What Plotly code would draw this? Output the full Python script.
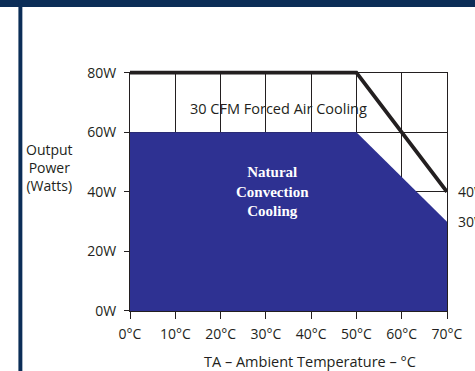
import plotly.graph_objects as go

# ---- data ----
temps_forced = [0, 50, 70]
power_forced = [80, 80, 40]
temps_natural = [0, 50, 70]
power_natural = [60, 60, 30]
x_ticks = [0, 10, 20, 30, 40, 50, 60, 70]
x_tick_labels = ["0°C", "10°C", "20°C", "30°C", "40°C", "50°C", "60°C", "70°C"]
y_ticks = [0, 20, 40, 60, 80]
y_tick_labels = ["0W", "20W", "40W", "60W", "80W"]
forced_label = "30 CFM Forced Air Cooling"
natural_label = "<b>Natural</b><br><b>Convection</b><br><b>Cooling</b>"
y_title = "Output<br>Power<br>(Watts)"
x_title = "TA – Ambient Temperature – °C"
end_labels = ["40W", "30W"]

W, H = 475, 371
ML, MR, MT, MB = 130, 24, 62, 60
PW, PH = W - ML - MR, H - MT - MB
YDOM = 0.957  # top of main y domain (80W line)

INK = "#231f20"
NAVY = "#0b2d57"
FILL = "#2e3192"
FONT = "Open Sans"

def px_x(p):
    return (p - ML) / PW

def px_y(p):
    return (H - MB - p) / PH

fig = go.Figure()

fig.add_trace(go.Scatter(
    x=temps_natural, y=power_natural, mode="lines", fill="tozeroy",
    fillcolor=FILL, line=dict(width=0, color=FILL), hoverinfo="skip",
    xaxis="x", yaxis="y", showlegend=False))

fig.add_trace(go.Scatter(
    x=temps_forced, y=power_forced, mode="lines",
    line=dict(width=3.8, color=INK), hoverinfo="skip",
    xaxis="x2", yaxis="y2", showlegend=False))

fig.update_layout(
    width=W, height=H,
    margin=dict(l=ML, r=MR, t=MT, b=MB, pad=0),
    paper_bgcolor="white", plot_bgcolor="rgba(0,0,0,0)",
    font=dict(family=FONT, size=14, color=INK),
    xaxis=dict(range=[0, 70], domain=[0, 1], anchor="y",
               tickmode="array", tickvals=x_ticks, ticktext=x_tick_labels,
               showgrid=True, gridcolor=INK, gridwidth=1,
               showline=True, linecolor=INK, linewidth=1, mirror=True,
               ticks="outside", ticklen=7, tickcolor=INK, tickwidth=1,
               ticklabelstandoff=3,
               tickfont=dict(family=FONT, size=14, color=INK),
               zeroline=False, fixedrange=True),
    yaxis=dict(range=[0, 80], domain=[0, YDOM], anchor="x",
               tickmode="array", tickvals=y_ticks, ticktext=y_tick_labels,
               showgrid=True, gridcolor=INK, gridwidth=1,
               showline=True, linecolor=INK, linewidth=1, mirror=True,
               ticks="outside", ticklen=5, tickcolor=INK, tickwidth=1,
               ticklabelstandoff=5,
               tickfont=dict(family=FONT, size=14, color=INK),
               zeroline=False, fixedrange=True),
    xaxis2=dict(range=[0, 70], domain=[0, 1], anchor="y2",
                showticklabels=False, ticks="", showline=False,
                showgrid=False, zeroline=False, fixedrange=True),
    yaxis2=dict(range=[0, 80 / YDOM], domain=[0, 1], anchor="x2",
                showticklabels=False, ticks="", showline=False,
                showgrid=False, zeroline=False, fixedrange=True),
)

annotations = [
    dict(x=32.8, y=68, xref="x", yref="y", text=forced_label, showarrow=False,
         xanchor="center", yanchor="middle",
         font=dict(family=FONT, size=14.5, color=INK)),
    dict(x=31.5, y=40.2, xref="x", yref="y", text=natural_label, showarrow=False,
         xanchor="center", yanchor="middle",
         font=dict(family="Liberation Serif", size=15, color="white")),
    dict(x=70, y=power_forced[-1], xref="x", yref="y", text=end_labels[0], showarrow=False,
         xanchor="left", yanchor="middle", xshift=9,
         font=dict(family=FONT, size=14, color=INK)),
    dict(x=70, y=power_natural[-1], xref="x", yref="y", text=end_labels[1], showarrow=False,
         xanchor="left", yanchor="middle", xshift=9,
         font=dict(family=FONT, size=14, color=INK)),
    dict(x=px_x(48), y=px_y(167.5), xref="paper", yref="paper", text=y_title,
         showarrow=False, align="center", xanchor="center", yanchor="middle",
         font=dict(family=FONT, size=14, color=INK)),
    dict(x=px_x(312), y=px_y(361.5), xref="paper", yref="paper", text=x_title,
         showarrow=False, xanchor="center", yanchor="middle",
         font=dict(family=FONT, size=14.5, color=INK)),
]
fig.update_layout(annotations=annotations)

shapes = [
    dict(type="rect", xref="paper", yref="paper", x0=-1, x1=2,
         y0=px_y(7), y1=px_y(-20), fillcolor=NAVY, line=dict(width=0), layer="above"),
    dict(type="rect", xref="paper", yref="paper", x0=px_x(17), x1=px_x(21),
         y0=px_y(H + 20), y1=px_y(-20), fillcolor=NAVY, line=dict(width=0), layer="above"),
]
fig.update_layout(shapes=shapes)

fig.write_html("out.html", config={"displayModeBar": False},
               post_script="document.body.style.margin='0';document.body.style.padding='0';")
